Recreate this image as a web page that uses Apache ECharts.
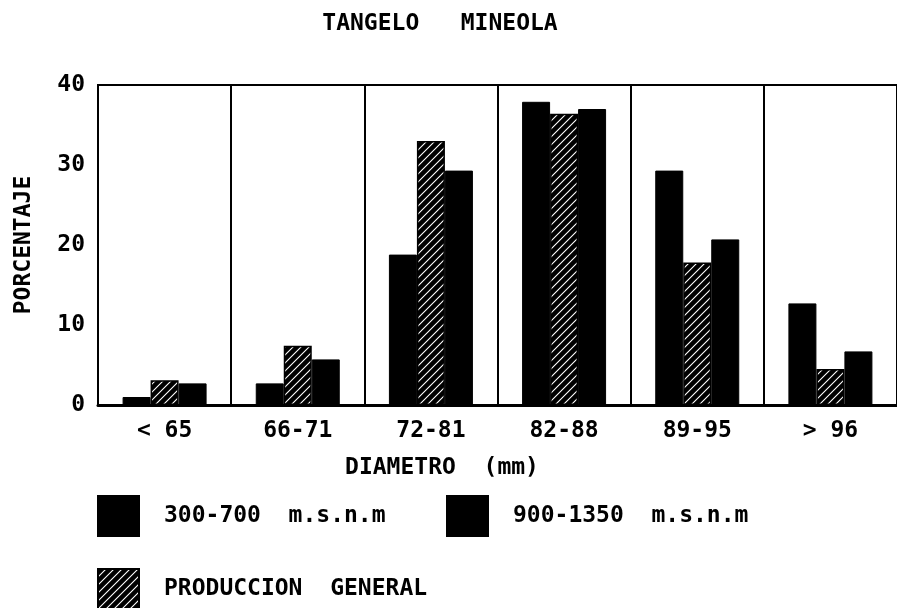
<!DOCTYPE html>
<html>
<head>
<meta charset="utf-8">
<script src="https://cdn.jsdelivr.net/npm/echarts@6/dist/echarts.min.js"></script>
<style>
  html, body { margin: 0; padding: 0; background: #fff; }
  #chart { width: 897px; height: 608px; }
</style>
</head>
<body>
<div id="chart"></div>
<script>
// diametro del fruto (mm)
var categories = ['< 65', '66-71', '72-81', '82-88', '89-95', '> 96'];
var yTicks = [0, 10, 20, 30, 40];

// porcentaje por clase
var bajaAltura = [1.0, 2.7, 18.8, 37.9, 29.3, 12.7];     // 300-700 m.s.n.m
var produccionGeneral = [3.1, 7.4, 33.0, 36.4, 17.8, 4.5];
var altaAltura = [2.7, 5.7, 29.3, 37.0, 20.7, 6.7];      // 900-1350 m.s.n.m

var FONT = 'DejaVu Sans Mono';

function hatchPattern() {
    var c = document.createElement('canvas');
    c.width = 8;
    c.height = 8;
    var ctx = c.getContext('2d');
    ctx.fillStyle = '#000';
    ctx.fillRect(0, 0, 8, 8);
    ctx.strokeStyle = '#fff';
    ctx.lineWidth = 1.1;
    ctx.beginPath();
    ctx.moveTo(0, 8); ctx.lineTo(8, 0);
    ctx.moveTo(-2, 2); ctx.lineTo(2, -2);
    ctx.moveTo(6, 10); ctx.lineTo(10, 6);
    ctx.stroke();
    return { image: c, repeat: 'repeat' };
}

var hatch = hatchPattern();

var myChart = echarts.init(document.getElementById('chart'));

var legendText = { fontFamily: FONT, fontWeight: 'bold', fontSize: 23, color: '#000', padding: [0, 0, 0, 20] };

var option = {
    animation: false,
    backgroundColor: '#fff',
    title: [
        {
            text: 'TANGELO   MINEOLA',
            left: 435,
            top: 8,
            textAlign: 'center',
            textStyle: { fontFamily: FONT, fontWeight: 'bold', fontSize: 23, color: '#000' }
        },
        {
            text: 'DIAMETRO  (mm)',
            left: 437,
            top: 452,
            textAlign: 'center',
            textStyle: { fontFamily: FONT, fontWeight: 'bold', fontSize: 23, color: '#000' }
        }
    ],
    legend: [
        {
            data: ['300-700  m.s.n.m'],
            left: 97, top: 495, padding: 0,
            itemWidth: 41, itemHeight: 40,
            icon: 'rect',
            textStyle: legendText
        },
        {
            data: ['900-1350  m.s.n.m'],
            left: 446, top: 495, padding: 0,
            itemWidth: 41, itemHeight: 40,
            icon: 'rect',
            textStyle: legendText
        },
        {
            data: ['PRODUCCION  GENERAL'],
            left: 97, top: 568, padding: 0,
            itemWidth: 41, itemHeight: 40,
            icon: 'rect',
            textStyle: legendText
        }
    ],
    grid: {
        left: 98,
        top: 85,
        width: 804,
        height: 320,
        show: true,
        borderColor: '#000',
        borderWidth: 2,
        backgroundColor: 'transparent'
    },
    xAxis: {
        type: 'category',
        data: categories,
        axisLine: { lineStyle: { color: '#000', width: 3 } },
        axisTick: { show: false },
        axisLabel: {
            margin: 15,
            fontFamily: FONT, fontWeight: 'bold', fontSize: 23, color: '#000'
        },
        splitLine: { show: true, lineStyle: { color: '#000', width: 2 } }
    },
    yAxis: {
        type: 'value',
        min: yTicks[0],
        max: yTicks[yTicks.length - 1],
        interval: 10,
        name: 'PORCENTAJE',
        nameLocation: 'middle',
        nameGap: 62,
        nameTextStyle: { fontFamily: FONT, fontWeight: 'bold', fontSize: 23, color: '#000' },
        axisLine: { show: true, lineStyle: { color: '#000', width: 2 } },
        axisTick: { show: false },
        splitLine: { show: false },
        axisLabel: {
            margin: 13,
            padding: [0, 0, 8, 0],
            fontFamily: FONT, fontWeight: 'bold', fontSize: 23, color: '#000'
        }
    },
    series: [
        {
            name: '300-700  m.s.n.m',
            type: 'bar',
            data: bajaAltura,
            barWidth: 28,
            barGap: '0%',
            itemStyle: { color: '#000', borderColor: '#000', borderWidth: 1 }
        },
        {
            name: 'PRODUCCION  GENERAL',
            type: 'bar',
            data: produccionGeneral,
            barWidth: 28,
            barGap: '0%',
            itemStyle: { color: hatch, borderColor: '#000', borderWidth: 1.5 }
        },
        {
            name: '900-1350  m.s.n.m',
            type: 'bar',
            data: altaAltura,
            barWidth: 28,
            barGap: '0%',
            itemStyle: { color: '#000', borderColor: '#000', borderWidth: 1 }
        }
    ]
};

myChart.setOption(option);
</script>
</body>
</html>
